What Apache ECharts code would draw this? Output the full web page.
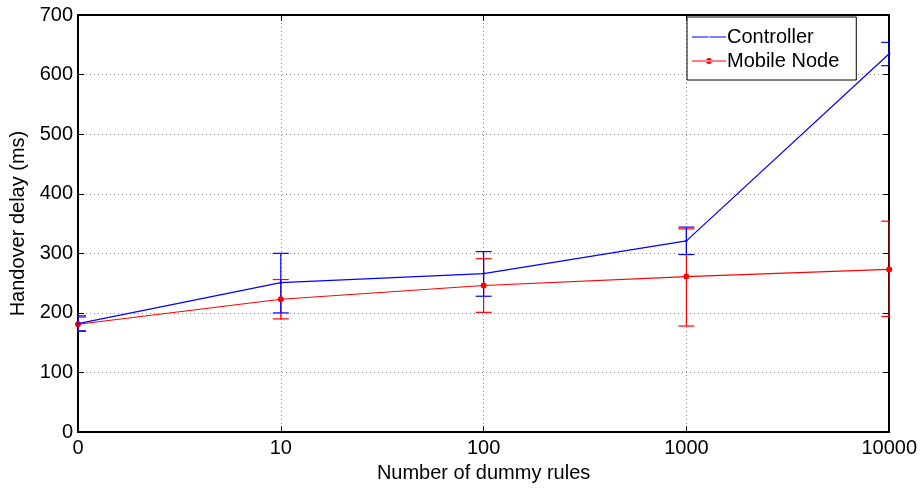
<!DOCTYPE html>
<html><head><meta charset="utf-8">
<script src="https://cdn.jsdelivr.net/npm/echarts@6/dist/echarts.min.js"></script>
<style>html,body{margin:0;padding:0;background:#fff}#c{width:920px;height:488px}</style>
</head><body><div id="c"></div>
<script>
const categories = ['0', '10', '100', '1000', '10000'];
const controllerMean = [182, 251, 266, 321, 635];
const controllerLow  = [170, 200, 228, 298, 615];
const controllerHigh = [195, 300, 303, 344, 654];
const mobileMean = [181, 223, 246, 261, 273];
const mobileLow  = [169, 190, 201, 178, 194];
const mobileHigh = [193, 256, 291, 341, 354];
const yTicks = [0, 100, 200, 300, 400, 500, 600, 700];

const FONT = 'Liberation Sans, Arial, sans-serif';
const BLUE = '#0000ff', RED = '#ff0000';

function errData(lo, hi) { return categories.map((c, i) => [i, lo[i], hi[i]]); }
function errSeries(name, lo, hi, color) {
  return {
    type: 'custom', name: name + ' err', silent: true, z: 3,
    data: errData(lo, hi),
    encode: { x: 0, y: [1, 2] },
    clip: true,
    renderItem: function (params, api) {
      const x = api.coord([api.value(0), api.value(1)])[0];
      const yl = api.coord([api.value(0), api.value(1)])[1];
      const yh = api.coord([api.value(0), api.value(2)])[1];
      const w = 8;
      const style = { stroke: color, lineWidth: 1.2 };
      return {
        type: 'group',
        children: [
          { type: 'line', shape: { x1: x, y1: yl, x2: x, y2: yh }, style },
          { type: 'line', shape: { x1: x - w, y1: yl, x2: x + w, y2: yl }, style },
          { type: 'line', shape: { x1: x - w, y1: yh, x2: x + w, y2: yh }, style }
        ]
      };
    }
  };
}

const ICON_DOT = 'path://M0,0 L0.01,0 L0.01,0.01 Z M34,14 L33.99,14 L33.99,13.99 Z M0,6.4 L34,6.4 L34,7.6 L0,7.6 Z M16,7 a1,1 0 1,0 2,0 a1,1 0 1,0 -2,0 Z';
const ICON_STAR = 'path://M0,0 L0.01,0 L0.01,0.01 Z M34,14 L33.99,14 L33.99,13.99 Z M0,6.4 L34,6.4 L34,7.6 L0,7.6 Z M14,7 a3,3 0 1,0 6,0 a3,3 0 1,0 -6,0 Z';

const chart = echarts.init(document.getElementById('c'), null, { renderer: 'canvas' });
chart.setOption({
  animation: false,
  backgroundColor: '#fff',
  textStyle: { fontFamily: FONT },
  grid: { left: 78, right: 30, top: 15, bottom: 50, show: false },
  legend: {
    left: 687, top: 17, orient: 'vertical',
    data: [
      { name: 'Controller', icon: ICON_DOT },
      { name: 'Mobile Node', icon: ICON_STAR }
    ],
    backgroundColor: '#fff', borderColor: '#000', borderWidth: 1, borderRadius: 0,
    padding: [10, 17, 9, 5], itemGap: 4, itemWidth: 34, itemHeight: 14,
    textStyle: { fontSize: 20, fontFamily: FONT, color: '#000', padding: [0, 0, 0, -4] }
  },
  xAxis: [{
    type: 'category', data: categories, boundaryGap: false,
    name: 'Number of dummy rules', nameLocation: 'middle', nameGap: 28,
    nameTextStyle: { fontSize: 20, color: '#000', fontFamily: FONT },
    axisLine: { show: true, lineStyle: { color: '#000', width: 2 } },
    axisTick: { show: true, inside: true, length: 6, lineStyle: { color: '#000' }, alignWithLabel: true },
    axisLabel: { fontSize: 20, color: '#000', margin: 6, fontFamily: FONT },
    splitLine: { show: true, lineStyle: { color: '#888', type: [1, 3], width: 1 } }
  }, {
    type: 'category', data: categories, boundaryGap: false, position: 'top',
    axisLine: { show: true, onZero: false, lineStyle: { color: '#000', width: 2 } },
    axisTick: { show: true, inside: true, length: 6, lineStyle: { color: '#000' } },
    axisLabel: { show: false }, splitLine: { show: false }
  }],
  yAxis: [{
    type: 'value', min: 0, max: 700, interval: 100,
    name: 'Handover delay (ms)', nameLocation: 'middle', nameGap: 50,
    nameTextStyle: { fontSize: 20, color: '#000', fontFamily: FONT },
    axisLine: { show: true, lineStyle: { color: '#000', width: 2 } },
    axisTick: { show: true, inside: true, length: 6, lineStyle: { color: '#000' } },
    axisLabel: { fontSize: 20, color: '#000', margin: 5, fontFamily: FONT,
      formatter: v => yTicks.includes(v) ? String(v) : '' },
    splitLine: { show: true, lineStyle: { color: '#888', type: [1, 3], width: 1 } }
  }, {
    type: 'value', min: 0, max: 700, interval: 100, position: 'right',
    axisLine: { show: true, onZero: false, lineStyle: { color: '#000', width: 2 } },
    axisTick: { show: true, inside: true, length: 6, lineStyle: { color: '#000' } },
    axisLabel: { show: false }, splitLine: { show: false }
  }],
  series: [
    errSeries('Mobile Node', mobileLow, mobileHigh, RED),
    errSeries('Controller', controllerLow, controllerHigh, BLUE),
    {
      name: 'Mobile Node', type: 'line', data: mobileMean, z: 4,
      symbol: 'circle', symbolSize: 6, showSymbol: true,
      lineStyle: { color: RED, width: 1.2 }, itemStyle: { color: RED },
      clip: false
    },
    {
      name: 'Controller', type: 'line', data: controllerMean, z: 5,
      symbol: 'circle', symbolSize: 2.5, showSymbol: true,
      lineStyle: { color: BLUE, width: 1.2 }, itemStyle: { color: BLUE },
      clip: false
    }
  ]
});
</script></body></html>
